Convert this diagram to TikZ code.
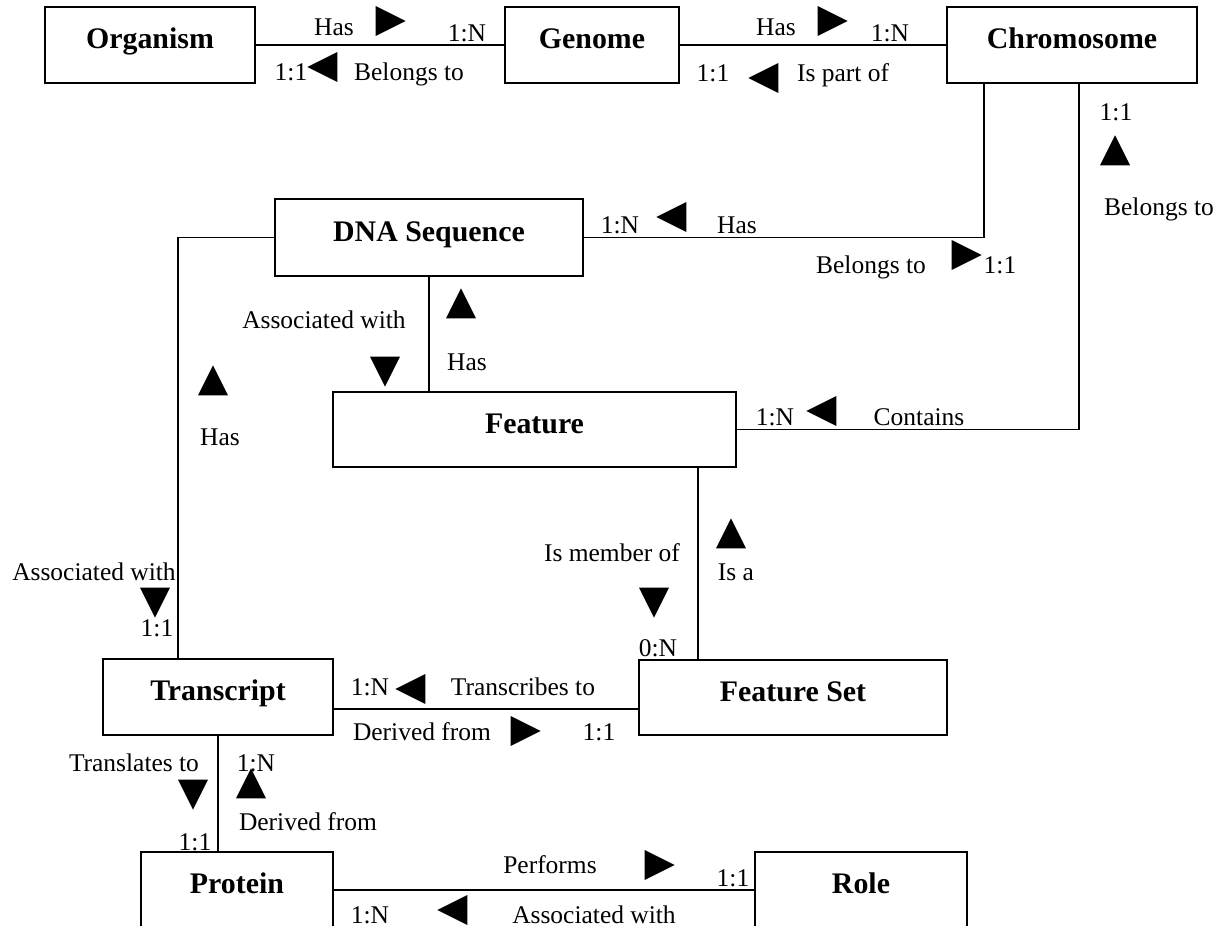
\documentclass[tikz,border=0pt]{standalone}
\usepackage{fontspec}
\setmainfont{Liberation Serif}
\usetikzlibrary{shapes.geometric}
\newlength\px
\setlength\px{0.02cm}

\begin{document}
\begin{tikzpicture}
[x=0.02cm,y=-0.02cm,
 entity/.style={shape=rectangle,draw,line width=1pt,inner sep=0pt,
   font=\bfseries\fontsize{17}{20}\selectfont,text height=11.5pt,text depth=7.5pt},
 rel/.style={line width=1pt},
 lbl/.style={font=\fontsize{14.5}{17}\selectfont,inner sep=0pt,text height=9.6pt,text depth=0pt},
 arr/.style={shape=isosceles triangle,isosceles triangle stretches,fill,draw=none,
   inner sep=0pt,minimum width=30\px,minimum height=30\px},
 toright/.style={arr,shape border rotate=0},
 toleft/.style={arr,shape border rotate=180},
 toup/.style={arr,shape border rotate=90},
 todown/.style={arr,shape border rotate=270}]

\useasboundingbox (0,0) rectangle (1228,926);
\clip (0,0) rectangle (1228,926);

% entities
\node (org) [entity,minimum width=210\px,minimum height=76\px] at (150,45) {Organism};
\node (gen) [entity,minimum width=174\px,minimum height=76\px] at (592,45) {Genome};
\node (chr) [entity,minimum width=250\px,minimum height=76\px] at (1072,45) {Chromosome};
\node (dna) [entity,minimum width=308\px,minimum height=77\px] at (429,237.5) {DNA Sequence};
\node (feat) [entity,minimum width=403\px,minimum height=75\px] at (534.5,429.5) {Feature};
\node (fset) [entity,minimum width=308\px,minimum height=75\px] at (793,697.5) {Feature Set};
\node (trans) [entity,minimum width=230\px,minimum height=76\px] at (218,697) {Transcript};
\node (prot) [entity,minimum width=192\px,minimum height=76\px] at (237,890) {Protein};
\node (role) [entity,minimum width=212\px,minimum height=76\px] at (861,890) {Role};

% relations
\coordinate (fs1) at ([xshift=-39\px]feat.south east);
\coordinate (tf) at ([yshift=-12\px]trans.east);
\draw [rel] (org) -- (gen);
\draw [rel] (gen) -- (chr);
\draw [rel] (dna.east) -| ([xshift=38\px]chr.south west);
\draw [rel] (feat.east) -| ([xshift=133\px]chr.south west);
\draw [rel] (dna.west) -| ([xshift=76\px]trans.north west);
\draw [rel] (dna.south) -- (dna.south |- feat.north);
\draw [rel] (fs1) -- (fs1 |- fset.north);
\draw [rel] (tf) -- (tf -| fset.west);
\draw [rel] (trans.south) -- (trans.south |- prot.north);
\draw [rel] (prot) -- (role);

% organism - genome
\node (l1) [lbl] at (334,27) {Has};
\node (a1) [toright] at (385,21) {};
\node (l2) [lbl] at (467,33) {1:N};
\node (l3) [lbl] at (291,72) {1:1};
\node (a2) [toleft] at (328,67) {};
\node (l4) [lbl] at (409,72) {Belongs to};

% genome - chromosome
\node (l5) [lbl] at (776,27) {Has};
\node (a3) [toright] at (827,21) {};
\node (l6) [lbl] at (890,33) {1:N};
\node (l7) [lbl] at (713,73) {1:1};
\node (a4) [toleft] at (769,78) {};
\node (l8) [lbl] at (843,73) {Is part of};

% chromosome - feature
\node (l9) [lbl] at (1116,112) {1:1};
\node (a5) [toup] at (1115,156) {};
\node (l10) [lbl] at (1159,207) {Belongs to};
\node (l11) [lbl] at (775,417) {1:N};
\node (a6) [toleft] at (827,411) {};
\node (l12) [lbl] at (919,417) {Contains};

% chromosome - dna sequence
\node (l13) [lbl] at (620,225) {1:N};
\node (a7) [toleft] at (677,217) {};
\node (l14) [lbl] at (737,225) {Has};
\node (l15) [lbl] at (871,265) {Belongs to};
\node (a8) [toright] at (961,255) {};
\node (l16) [lbl] at (1000,265) {1:1};

% dna sequence - feature
\node (l17) [lbl] at (324,320) {Associated with};
\node (a9) [todown] at (385,366) {};
\node (a10) [toup] at (461,309) {};
\node (l18) [lbl] at (467,362) {Has};

% dna sequence - transcript
\node (a11) [toup] at (213,386) {};
\node (l19) [lbl] at (220,437) {Has};
\node (l20) [lbl] at (94,572) {Associated with};
\node (a12) [todown] at (155,597) {};
\node (l21) [lbl] at (157,628) {1:1};

% feature - feature set
\node (l22) [lbl] at (612,553) {Is member of};
\node (a13) [todown] at (654,597) {};
\node (l23) [lbl] at (658,648) {0:N};
\node (a14) [toup] at (731,539) {};
\node (l24) [lbl] at (736,572) {Is a};

% transcript - feature set
\node (l25) [lbl] at (370,687) {1:N};
\node (a15) [toleft] at (416,689) {};
\node (l26) [lbl] at (523,687) {Transcribes to};
\node (l27) [lbl] at (422,732) {Derived from};
\node (a16) [toright] at (520,731) {};
\node (l28) [lbl] at (599,732) {1:1};

% transcript - protein
\node (l29) [lbl] at (134,763) {Translates to};
\node (a17) [todown] at (193,789) {};
\node (l30) [lbl] at (195,842) {1:1};
\node (l31) [lbl] at (256,763) {1:N};
\node (a18) [toup] at (251,789) {};
\node (l32) [lbl] at (308,822) {Derived from};

% protein - role
\node (l33) [lbl] at (550,865) {Performs};
\node (a19) [toright] at (654,865) {};
\node (l34) [lbl] at (733,878) {1:1};
\node (l35) [lbl] at (370,915) {1:N};
\node (a20) [toleft] at (458,910) {};
\node (l36) [lbl] at (594,915) {Associated with};

\end{tikzpicture}
\end{document}
